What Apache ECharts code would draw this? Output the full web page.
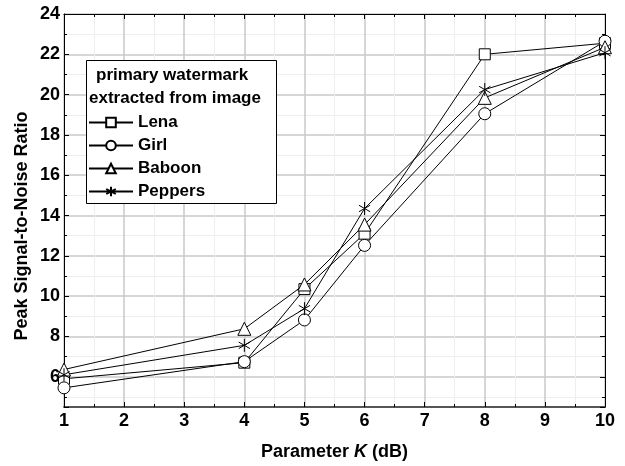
<!DOCTYPE html>
<html>
<head>
<meta charset="utf-8">
<script src="https://cdn.jsdelivr.net/npm/echarts@6/dist/echarts.min.js"></script>
<style>
  html, body { margin: 0; padding: 0; background: #fff; }
  #chart { width: 625px; height: 466px; }
</style>
</head>
<body>
<div id="chart"></div>
<script>
// Parameter K values (dB) and PSNR of the extracted primary watermark
const kValues = [1, 4, 5, 6, 8, 10];
const lena    = [5.9, 6.7, 10.35, 13.1, 22.0, 22.55];
const girl    = [5.45, 6.75, 8.82, 12.52, 19.05, 22.65];
const baboon  = [6.36, 8.38, 10.58, 13.55, 19.84, 22.35];
const peppers = [6.1, 7.56, 9.38, 14.35, 20.25, 22.08];
const seriesNames = ['Lena', 'Girl', 'Baboon', 'Peppers'];
const legendTitle = ['primary watermark', 'extracted from image'];
const yTitle = 'Peak Signal-to-Noise Ratio';

const FONT = '"Liberation Sans", Arial, sans-serif';
const asterisk = 'path://M0,-10L0,10M-8.66,-5L8.66,5M-8.66,5L8.66,-5';

function pairs(vals) { return kValues.map((k, i) => [k, vals[i]]); }

function mkSeries(name, vals, symbol, size) {
  return {
    name: name,
    type: 'line',
    data: pairs(vals),
    symbol: symbol,
    symbolSize: size,
    symbolKeepAspect: true,
    showAllSymbol: true,
    lineStyle: { color: '#000', width: 1 },
    itemStyle: { color: '#fff', borderColor: '#000', borderWidth: 1 },
    emphasis: { disabled: true },
    animation: false,
    z: 2
  };
}

const chart = echarts.init(document.getElementById('chart'), null, { renderer: 'canvas' });

const gridLine = { show: true, lineStyle: { color: '#c8c8c8', width: 1.5 } };
const minorGrid = { show: true, lineStyle: { color: '#eeeeee', width: 1 } };
const evenLabel = v => (Math.abs(v - Math.round(v)) < 1e-6 && Math.round(v) % 2 === 0) ? String(v) : '';

chart.setOption({
  backgroundColor: '#fff',
  animation: false,
  grid: { left: 64, right: 20, top: 14, bottom: 55, containLabel: false },
  xAxis: [{
    type: 'value', min: 1, max: 10, interval: 1,
    axisLine: { show: true, onZero: false, lineStyle: { color: '#555', width: 2 } },
    axisTick: { show: true, inside: true, length: 5, lineStyle: { color: '#000' } },
    minorTick: { show: true, splitNumber: 2, length: 3, lineStyle: { color: '#000' } },
    splitLine: gridLine,
    minorSplitLine: minorGrid,
    axisLabel: { color: '#000', fontFamily: FONT, fontWeight: 'bold', fontSize: 18, margin: 5 },
    name: '{n|Parameter }{k|K }{n|(dB)}',
    nameLocation: 'middle', nameGap: 36,
    nameTextStyle: {
      rich: {
        n: { fontFamily: FONT, fontSize: 18, color: '#000', fontWeight: 'bold' },
        k: { fontFamily: FONT, fontSize: 18, color: '#000', fontWeight: 'bold', fontStyle: 'italic' }
      }
    }
  }, {
    type: 'value', min: 1, max: 10, interval: 1, position: 'top',
    axisLine: { show: true, onZero: false, lineStyle: { color: '#000', width: 1 } },
    axisTick: { show: true, inside: true, length: 5, lineStyle: { color: '#000' } },
    minorTick: { show: true, splitNumber: 2, length: 3, lineStyle: { color: '#000' } },
    splitLine: { show: false },
    axisLabel: { show: false }
  }],
  yAxis: [{
    type: 'value', min: 4.5, max: 24, splitNumber: 10,
    axisLine: { show: true, onZero: false, lineStyle: { color: '#000', width: 1 } },
    axisTick: { show: true, inside: true, length: 5, lineStyle: { color: '#000' } },
    minorTick: { show: true, splitNumber: 2, length: 3, lineStyle: { color: '#000' } },
    splitLine: gridLine,
    minorSplitLine: minorGrid,
    axisLabel: { color: '#000', fontFamily: FONT, fontWeight: 'bold', fontSize: 18, margin: 4, formatter: evenLabel }
  }, {
    type: 'value', min: 4.5, max: 24, splitNumber: 10, position: 'right',
    axisLine: { show: true, onZero: false, lineStyle: { color: '#000', width: 1 } },
    axisTick: { show: true, inside: true, length: 5, lineStyle: { color: '#000' } },
    minorTick: { show: true, splitNumber: 2, length: 3, lineStyle: { color: '#000' } },
    splitLine: { show: false },
    axisLabel: { show: false }
  }],
  legend: {
    orient: 'vertical',
    left: 88, top: 114,
    padding: 0,
    itemGap: 6,
    itemWidth: 44, itemHeight: 12,
    data: seriesNames,
    textStyle: { fontFamily: FONT, fontSize: 17, fontWeight: 'bold', color: '#000' },
    selectedMode: false,
    z: 6
  },
  graphic: [{
    type: 'rect',
    shape: { x: 86.5, y: 60.5, width: 190, height: 143 },
    style: { fill: '#fff', stroke: '#000', lineWidth: 1 },
    z: 5
  }, {
    type: 'text', left: 96, top: 67,
    style: { text: legendTitle[0], font: 'bold 17px ' + FONT, fill: '#000' },
    z: 7
  }, {
    type: 'text', left: 89, top: 90,
    style: { text: legendTitle[1], font: 'bold 17px ' + FONT, fill: '#000' },
    z: 7
  }, {
    type: 'text', x: 22, y: 226, rotation: Math.PI / 2,
    style: { text: yTitle, font: 'bold 18px ' + FONT, fill: '#000', align: 'center', verticalAlign: 'middle' },
    z: 7
  }],
  series: [
    mkSeries(seriesNames[0], lena, 'rect', 11),
    mkSeries(seriesNames[1], girl, 'circle', 12),
    mkSeries(seriesNames[2], baboon, 'triangle', 13),
    mkSeries(seriesNames[3], peppers, asterisk, 13)
  ]
});
</script>
</body>
</html>
